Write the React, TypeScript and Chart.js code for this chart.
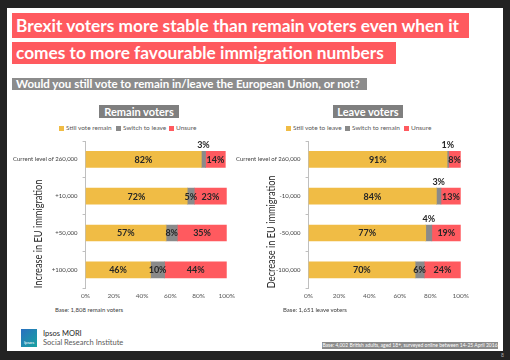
import React, { useEffect, useRef } from "react";
import { Chart, registerables } from "chart.js";
Chart.register(...registerables);

const remainCategories = ["Current level of 260,000", "+10,000", "+50,000", "+100,000"];
const leaveCategories = ["Current level of 260,000", "-10,000", "-50,000", "-100,000"];
const remainStill = [82, 72, 57, 46];
const remainSwitch = [3, 5, 8, 10];
const remainUnsure = [14, 23, 35, 44];
const leaveStill = [91, 84, 77, 70];
const leaveSwitch = [1, 3, 4, 6];
const leaveUnsure = [8, 13, 19, 24];
const remainLegend = ["Still vote remain", "Switch to leave", "Unsure"];
const leaveLegend = ["Still vote to leave", "Switch to remain", "Unsure"];
const xTickStep = 20;

const YELLOW = "#f0bc45";
const GREY = "#8a8a8a";
const RED = "#ff5a5f";
const COLORS = [YELLOW, GREY, RED];
const FONT = "Lato";

const labelPlugin = {
  id: "segLabels",
  afterDatasetsDraw(chart: any) {
    const ctx = chart.ctx;
    ctx.save();
    ctx.font = `bold 9px ${FONT}`;
    ctx.fillStyle = "#262626";
    ctx.textAlign = "center";
    ctx.textBaseline = "middle";
    chart.data.datasets.forEach((ds: any, di: number) => {
      const meta = chart.getDatasetMeta(di);
      meta.data.forEach((bar: any, i: number) => {
        const v = ds.data[i];
        const p = bar.getProps(["x", "y", "base", "height"], true);
        const cx = (p.x + p.base) / 2;
        if (v < 5) ctx.fillText(v + "%", cx, p.y - p.height / 2 - 6);
        else ctx.fillText(v + "%", cx, p.y + 0.5);
      });
    });
    // y-axis title
    const o = chart.options.plugins.yTitle;
    const ca = chart.chartArea;
    ctx.translate(ca.left - o.offset, ca.bottom);
    ctx.rotate(-Math.PI / 2);
    ctx.scale(0.84, 1);
    ctx.font = `11px ${FONT}`;
    ctx.textAlign = "left";
    ctx.fillText(o.text, 0, 0);
    ctx.restore();
  },
};

function makeConfig(cats: string[], a: number[], b: number[], c: number[], legend: string[], yTitle: string, offset: number): any {
  return {
    type: "bar",
    data: {
      labels: cats,
      datasets: [
        { label: legend[0], data: a, backgroundColor: YELLOW },
        { label: legend[1], data: b, backgroundColor: GREY },
        { label: legend[2], data: c, backgroundColor: RED },
      ],
    },
    plugins: [labelPlugin],
    options: {
      indexAxis: "y",
      animation: false,
      responsive: false,
      maintainAspectRatio: false,
      layout: { padding: { top: 11, left: 0, right: 0, bottom: 0 } },
      datasets: { bar: { barThickness: 16 } },
      plugins: {
        legend: { display: false },
        tooltip: { enabled: false },
        yTitle: { text: yTitle, offset },
      },
      scales: {
        x: {
          stacked: true,
          min: 0,
          max: 100,
          ticks: {
            stepSize: xTickStep,
            color: "#595959",
            font: { family: FONT, size: 6.5 },
            padding: 4,
            callback: (v: any) => v + "%",
          },
          grid: { display: false, drawTicks: false },
          border: { display: false },
        },
        y: {
          stacked: true,
          ticks: { color: "#404040", font: { family: FONT, size: 6 }, padding: 5 },
          grid: { display: true, drawOnChartArea: false, tickLength: 3, color: "#bfbfbf", offset: true },
          border: { display: true, color: "#bfbfbf" },
        },
      },
    },
  };
}

function ChartBox(props: { cfg: any; left: number; top: number; width: number; height: number }) {
  const ref = useRef<HTMLCanvasElement>(null);
  useEffect(() => {
    const ch = new Chart(ref.current as HTMLCanvasElement, props.cfg);
    return () => ch.destroy();
  }, []);
  return (
    <canvas
      ref={ref}
      width={props.width}
      height={props.height}
      style={{ position: "absolute", left: props.left, top: props.top, width: props.width, height: props.height }}
    />
  );
}

const abs = (o: any) => ({ position: "absolute" as const, ...o });

function Legend(props: { labels: string[]; xs: number[]; y: number }) {
  return (
    <>
      {props.labels.map((l, i) => (
        <React.Fragment key={i}>
          <div style={abs({ left: props.xs[i], top: props.y - 2.5, width: 5, height: 5, background: COLORS[i] })} />
          <div style={abs({ left: props.xs[i] + 7, top: props.y - 5, height: 10, lineHeight: "10px", fontSize: 6.5, color: "#595959", whiteSpace: "nowrap" })}>
            {l}
          </div>
        </React.Fragment>
      ))}
    </>
  );
}

export default function App() {
  return (
    <div style={abs({ left: 0, top: 0, width: 510, height: 360, background: "#232323", fontFamily: FONT, overflow: "hidden" })}>
      <div style={abs({ left: 7, top: 8, width: 496, height: 343, background: "#ffffff" })} />
      <div style={abs({ left: 12, top: 13, width: 457, height: 25, background: RED })} />
      <div style={abs({ left: 12, top: 42, width: 384, height: 22, background: RED })} />
      <div style={abs({ left: 16, top: 13, height: 25, lineHeight: "25px", color: "#fff", fontWeight: 700, fontSize: 17.3, whiteSpace: "nowrap" })}>
        Brexit voters more stable than remain voters even when it
      </div>
      <div style={abs({ left: 16, top: 42, height: 22, lineHeight: "22px", color: "#fff", fontWeight: 700, fontSize: 17.3, whiteSpace: "nowrap" })}>
        comes to more favourable immigration numbers
      </div>
      <div style={abs({ left: 12, top: 78, width: 355, height: 12, background: "#8c8c8c" })} />
      <div style={abs({ left: 16, top: 78, height: 12, lineHeight: "12px", color: "#fff", fontWeight: 700, fontSize: 11.5, whiteSpace: "nowrap" })}>
        Would you still vote to remain in/leave the European Union, or not?
      </div>
      <div style={abs({ left: 99, top: 105, width: 80, height: 13, background: "#7f7f7f", color: "#fff", fontWeight: 700, fontSize: 11, lineHeight: "13px", textAlign: "center" })}>
        Remain voters
      </div>
      <div style={abs({ left: 333, top: 105, width: 70, height: 13, background: "#7f7f7f", color: "#fff", fontWeight: 700, fontSize: 11, lineHeight: "13px", textAlign: "center" })}>
        Leave voters
      </div>
      <Legend labels={remainLegend} xs={[59, 116, 169]} y={128} />
      <Legend labels={leaveLegend} xs={[286, 345, 404]} y={128} />
      <ChartBox cfg={makeConfig(remainCategories, remainStill, remainSwitch, remainUnsure, remainLegend, "Increase in EU immigration", 47)} left={8} top={130} width={231} height={174} />
      <ChartBox cfg={makeConfig(leaveCategories, leaveStill, leaveSwitch, leaveUnsure, leaveLegend, "Decrease in EU immigration", 37)} left={231} top={130} width={242} height={174} />
      <div style={abs({ left: 55, top: 306, fontSize: 6, color: "#404040", whiteSpace: "nowrap" })}>Base: 1,808 remain voters</div>
      <div style={abs({ left: 283, top: 306, fontSize: 6, color: "#404040", whiteSpace: "nowrap" })}>Base: 1,651 leave voters</div>
      <div style={abs({ left: 21, top: 329, width: 16, height: 18, background: "linear-gradient(135deg, #2a6fc0, #18a3a0)" })} />
      <div style={abs({ left: 21, top: 340, width: 16, fontSize: 4.5, color: "#fff", textAlign: "center", lineHeight: "6px" })}>Ipsos</div>
      <div style={abs({ left: 43, top: 329, fontSize: 7.5, color: "#262626", whiteSpace: "nowrap", lineHeight: "9px" })}>Ipsos MORI</div>
      <div style={abs({ left: 43, top: 338, fontSize: 7.5, color: "#595959", whiteSpace: "nowrap", lineHeight: "9px" })}>Social Research Institute</div>
      <div style={abs({ left: 322, top: 342, width: 176, height: 7, background: "#8c8c8c", color: "#fff", fontSize: 5, lineHeight: "7px", textAlign: "center", whiteSpace: "nowrap", overflow: "hidden" })}>
        Base: 4,002 British adults, aged 18+, surveyed online between 14-25 April 2016
      </div>
      <div style={abs({ left: 501, top: 352, fontSize: 5, color: "#aaaaaa" })}>8</div>
    </div>
  );
}
